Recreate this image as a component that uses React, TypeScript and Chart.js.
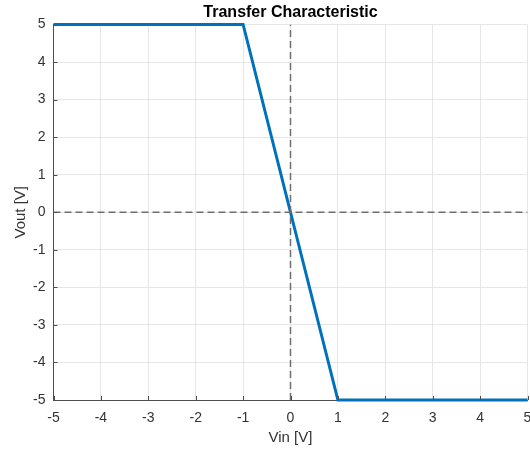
import React, { useEffect, useRef } from "react";
import { Chart, registerables } from "chart.js";

Chart.register(...registerables);

const vin: number[] = [-5, -1, 1, 5];
const vout: number[] = [5, 5, -5, -5];
const vLineX: number[] = [0, 0];
const vLineY: number[] = [-5, 5];
const hLineX: number[] = [-5, 5];
const hLineY: number[] = [0, 0];
const xTicks: number[] = [-5, -4, -3, -2, -1, 0, 1, 2, 3, 4, 5];
const yTicks: number[] = [-5, -4, -3, -2, -1, 0, 1, 2, 3, 4, 5];
const titleText = "Transfer Characteristic";
const xLabel = "Vin [V]";
const yLabel = "Vout [V]";

const FONT = "'Liberation Sans', Arial, Helvetica, sans-serif";
const TEXT = "#333333";

const toPts = (xs: number[], ys: number[]) => xs.map((x, i) => ({ x, y: ys[i] }));

const decorPlugin = {
  id: "decor",
  afterDraw(chart: any) {
    const { ctx, chartArea, scales } = chart;
    ctx.save();
    ctx.strokeStyle = "#4d4d4d";
    ctx.lineWidth = 1;
    ctx.beginPath();
    xTicks.forEach((t) => {
      const px = Math.round(scales.x.getPixelForValue(t)) + 0.5;
      ctx.moveTo(px, chartArea.bottom);
      ctx.lineTo(px, chartArea.bottom - 4);
    });
    yTicks.forEach((t) => {
      const py = Math.round(scales.y.getPixelForValue(t)) + 0.5;
      ctx.moveTo(chartArea.left, py);
      ctx.lineTo(chartArea.left + 4, py);
    });
    ctx.stroke();
    ctx.fillStyle = "#000000";
    ctx.font = `bold 16px ${FONT}`;
    ctx.textAlign = "center";
    ctx.textBaseline = "middle";
    ctx.fillText(titleText, (chartArea.left + chartArea.right) / 2, 12.5);
    ctx.restore();
  },
};

export default function App() {
  const ref = useRef<HTMLCanvasElement | null>(null);
  useEffect(() => {
    if (!ref.current) return;
    const chart = new Chart(ref.current, {
      type: "scatter",
      data: {
        datasets: [
          {
            data: toPts(vLineX, vLineY),
            showLine: true,
            borderColor: "#6e6e6e",
            borderWidth: 1.5,
            borderDash: [7, 4],
            pointRadius: 0,
          },
          {
            data: toPts(hLineX, hLineY),
            showLine: true,
            borderColor: "#6e6e6e",
            borderWidth: 1.5,
            borderDash: [7, 4],
            pointRadius: 0,
          },
          {
            data: toPts(vin, vout),
            showLine: true,
            borderColor: "#0072BD",
            borderWidth: 3,
            pointRadius: 0,
            clip: 3,
          } as any,
        ],
      },
      options: {
        animation: false,
        responsive: false,
        devicePixelRatio: 1,
        layout: { padding: { top: 24.5, right: 2.5, left: 0, bottom: 0 } },
        plugins: {
          legend: { display: false },
          tooltip: { enabled: false },
          title: { display: false },
        },
        scales: {
          x: {
            type: "linear",
            min: -5,
            max: 5,
            afterBuildTicks: (s: any) => {
              s.ticks = xTicks.map((v) => ({ value: v }));
            },
            afterFit: (s: any) => {
              s.height = 51;
              s.paddingLeft = 0;
              s.paddingRight = 0;
            },
            ticks: {
              font: { family: FONT, size: 14 },
              color: TEXT,
              padding: 10,
              maxRotation: 0,
              autoSkip: false,
            },
            grid: { color: "#e6e6e6", drawTicks: false, lineWidth: 1 },
            border: { display: true, color: "#4d4d4d", width: 1 },
            title: {
              display: true,
              text: xLabel,
              font: { family: FONT, size: 15 },
              color: TEXT,
              padding: { top: 0, bottom: 4 },
            },
          },
          y: {
            type: "linear",
            min: -5,
            max: 5,
            afterBuildTicks: (s: any) => {
              s.ticks = yTicks.map((v) => ({ value: v }));
            },
            afterFit: (s: any) => {
              s.width = 53.5;
              s.paddingTop = 0;
              s.paddingBottom = 0;
            },
            ticks: {
              font: { family: FONT, size: 14 },
              color: TEXT,
              padding: 8,
              autoSkip: false,
            },
            grid: { color: "#e6e6e6", drawTicks: false, lineWidth: 1 },
            border: { display: true, color: "#4d4d4d", width: 1 },
            title: {
              display: true,
              text: yLabel,
              font: { family: FONT, size: 15 },
              color: TEXT,
              padding: { top: 12, bottom: 0 },
            },
          },
        },
      },
      plugins: [decorPlugin],
    });
    return () => chart.destroy();
  }, []);
  return (
    <div style={{ position: "fixed", left: 0, top: 0, width: 530, height: 451, background: "#fff" }}>
      <canvas ref={ref} width={530} height={451} />
    </div>
  );
}
